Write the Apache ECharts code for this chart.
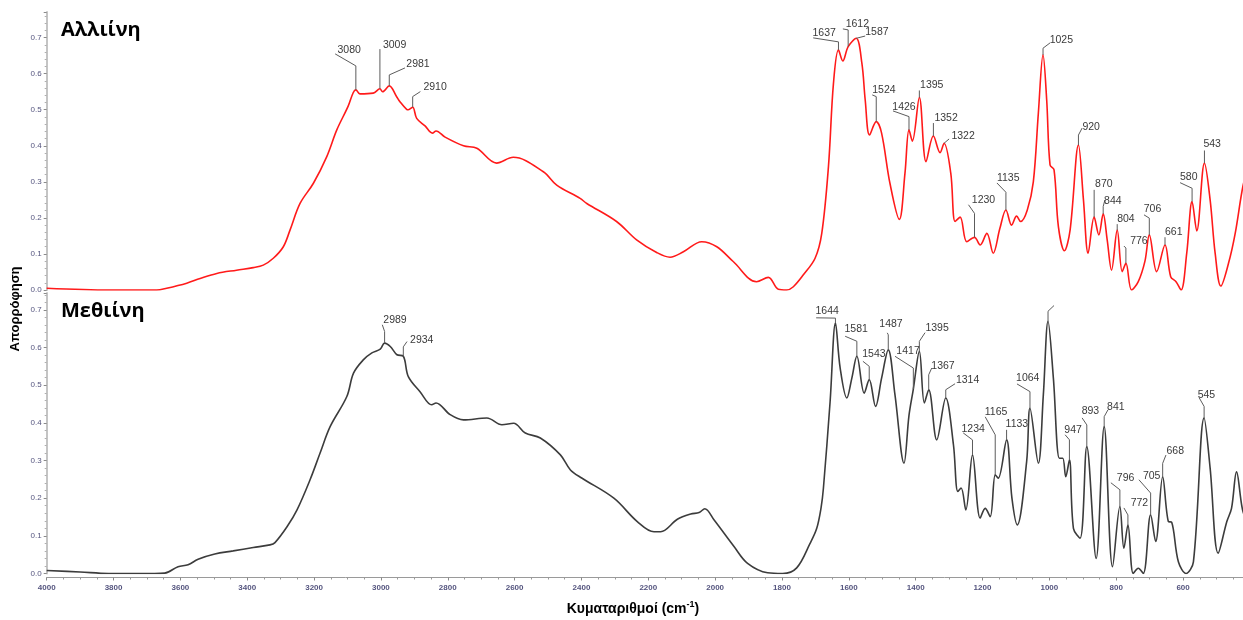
<!DOCTYPE html>
<html>
<head>
<meta charset="utf-8">
<script src="https://cdn.jsdelivr.net/npm/echarts@6/dist/echarts.min.js"></script>
<style>
html,body{margin:0;padding:0;background:#ffffff;}
#chart{width:1243px;height:620px;}
</style>
</head>
<body>
<div id="chart"></div>
<script>
// ---------- DATA ----------
// Alliin spectrum: [wavenumber (cm-1), absorbance]
const alliinSpectrum = [
  [4000,0.005],[3811,0.0],[3671,0.0],[3641,0.005],[3581,0.019],[3541,0.032],[3491,0.046],[3432,0.055],
  [3382,0.062],[3352,0.069],[3322,0.088],[3292,0.12],[3272,0.166],[3242,0.24],[3202,0.296],[3162,0.37],
  [3132,0.444],[3098,0.51],[3083,0.547],[3075,0.555],[3063,0.544],[3023,0.546],[3003,0.558],[2995,0.55],
  [2975,0.566],[2953,0.536],[2943,0.522],[2923,0.501],[2918,0.5],[2905,0.507],[2893,0.476],[2868,0.455],
  [2846,0.435],[2835,0.441],[2808,0.424],[2753,0.4],[2713,0.393],[2654,0.352],[2604,0.368],[2514,0.328],
  [2474,0.291],[2404,0.254],[2384,0.24],[2295,0.19],[2235,0.139],[2175,0.104],[2135,0.091],[2095,0.106],
  [2040,0.134],[1995,0.12],[1946,0.079],[1876,0.023],[1841,0.035],[1811,0.002],[1786,0.0],[1766,0.009],
  [1736,0.042],[1701,0.088],[1681,0.157],[1661,0.342],[1646,0.573],[1631,0.666],[1618,0.635],[1602,0.675],
  [1578,0.698],[1561,0.629],[1551,0.527],[1538,0.43],[1518,0.467],[1502,0.435],[1477,0.296],[1449,0.196],
  [1432,0.324],[1420,0.444],[1410,0.413],[1389,0.534],[1369,0.356],[1347,0.427],[1327,0.381],[1315,0.407],
  [1295,0.324],[1282,0.19],[1267,0.202],[1247,0.134],[1224,0.146],[1207,0.125],[1187,0.157],[1168,0.102],
  [1148,0.171],[1130,0.222],[1113,0.18],[1098,0.205],[1086,0.19],[1066,0.222],[1048,0.3],[1033,0.49],
  [1019,0.652],[1008,0.527],[998,0.347],[986,0.333],[973,0.176],[955,0.109],[938,0.166],[913,0.402],
  [898,0.25],[884,0.102],[866,0.202],[852,0.153],[839,0.211],[827,0.139],[814,0.055],[797,0.166],
  [782,0.051],[771,0.074],[754,0.0],[734,0.023],[714,0.08],[701,0.153],[679,0.051],[654,0.125],
  [637,0.037],[621,0.023],[606,0.0],[589,0.102],[573,0.245],[559,0.164],[536,0.352],[519,0.25],
  [504,0.102],[487,0.011],[464,0.074],[444,0.157],[421,0.287],[405,0.34]
];

// Methiin spectrum: [wavenumber (cm-1), absorbance]
const methiinSpectrum = [
  [4000,0.008],[3900,0.004],[3815,0.0],[3677,0.0],[3647,0.001],[3607,0.018],[3577,0.023],[3547,0.038],
  [3497,0.052],[3442,0.06],[3382,0.069],[3332,0.076],[3317,0.082],[3281,0.124],[3251,0.169],[3212,0.249],
  [3182,0.32],[3152,0.39],[3102,0.47],[3082,0.532],[3052,0.568],[3027,0.586],[3002,0.596],[2989,0.612],
  [2972,0.603],[2952,0.581],[2933,0.577],[2918,0.523],[2883,0.483],[2848,0.448],[2835,0.453],[2793,0.422],
  [2753,0.408],[2683,0.413],[2638,0.395],[2603,0.399],[2568,0.373],[2523,0.36],[2463,0.315],[2433,0.275],
  [2398,0.253],[2303,0.2],[2233,0.138],[2183,0.111],[2163,0.111],[2113,0.144],[2073,0.158],[2048,0.162],
  [2031,0.172],[2003,0.142],[1943,0.071],[1903,0.027],[1843,0.002],[1798,0.0],[1756,0.015],[1716,0.08],
  [1696,0.12],[1683,0.175],[1676,0.227],[1656,0.457],[1640,0.665],[1626,0.546],[1606,0.466],[1591,0.519],
  [1576,0.577],[1554,0.479],[1539,0.515],[1520,0.444],[1502,0.519],[1482,0.594],[1462,0.475],[1435,0.293],
  [1420,0.42],[1407,0.49],[1389,0.59],[1374,0.453],[1361,0.488],[1337,0.355],[1310,0.466],[1287,0.342],
  [1274,0.218],[1264,0.227],[1250,0.169],[1230,0.315],[1207,0.147],[1192,0.173],[1177,0.151],[1162,0.262],
  [1153,0.253],[1128,0.355],[1112,0.2],[1096,0.129],[1068,0.297],[1058,0.439],[1033,0.293],[1018,0.475],
  [1004,0.67],[988,0.519],[970,0.306],[960,0.306],[951,0.257],[940,0.302],[928,0.12],[908,0.094],
  [888,0.337],[860,0.04],[836,0.39],[811,0.018],[789,0.178],[777,0.067],[765,0.129],[749,0.0],
  [734,0.014],[719,0.0],[697,0.156],[682,0.085],[661,0.257],[644,0.138],[634,0.136],[614,0.031],
  [591,0.0],[569,0.031],[537,0.413],[519,0.28],[495,0.054],[469,0.138],[455,0.173],[440,0.27],
  [422,0.169],[405,0.13]
];

// Peak labels (cm-1)
const alliinPeaks = [3080,3009,2981,2910,1637,1612,1587,1524,1426,1395,1352,1322,1230,1135,1025,920,870,844,804,776,706,661,580,543];
const methiinPeaks = [2989,2934,1644,1581,1543,1487,1417,1395,1367,1314,1234,1165,1133,1064,1010,947,893,841,796,772,705,668,545];
const methiinHiddenPeakLabels = [1010];

const panelTitles = ['Αλλιίνη', 'Μεθιίνη'];
const yAxisTitle = 'Απορρόφηση';

// ---------- LAYOUT / STYLE (pixel offsets of the peak leader lines) ----------
// [vertical rise, line end dx, line end dy, text dx, text dy]
const alliinLabelLayout = [
  [24,-20.7,-36,-6.7,-40],[39.7,0,-39.7,14.7,-44],[11,15.7,-18,28.7,-22],[10.6,7.7,-15.6,22.4,-20],
  [8,-25.3,-12,-14.3,-17],[16.7,-5.3,-17.7,9.2,-22.7],[0,9,-2.3,20.7,-6.3],[25,-4,-26.7,7.7,-31.7],
  [13.3,-16,-19,-5,-23],[7,0,-7,12.4,-12],[13,0,-13,12.7,-18],[0,5,-4.3,19,-7.3],
  [24,-6,-32.6,9,-37.3],[17.7,-9,-27,2.3,-31.7],[6.7,7,-12,18.3,-15],[10,3.7,-17,12.7,-17.7],
  [27.3,0,-27.3,9.7,-33],[7.3,1.7,-14,9.7,-12.7],[6,0,-6,8.7,-11],[15.3,-2,-17.3,13,-22.6],
  [16.7,-5.3,-20,3.2,-25.7],[7.7,0,-7.7,8.7,-12.7],[13.4,-12,-19,-3.3,-24.4],[12.6,0,-12.6,7.7,-19.3]
];
const methiinLabelLayout = [
  [11.6,-2.3,-18.3,10.4,-22.6],[9.4,3.7,-14.7,18.4,-16],[5,-19.3,-5.3,-8.3,-11.6],[15,-11.7,-20,-0.7,-26.7],
  [13.3,-6.3,-18.3,4.7,-25],[15,-1,-17,2.7,-26],[21,-18.3,-32.7,-5.3,-37.7],[10,5.7,-18.7,17.7,-23.4],
  [15,3,-21.7,14.3,-24],[8.3,9.3,-14.3,21.8,-17.6],[15,-9.3,-22,0.7,-26],[40,-10,-58,0.8,-62.7],
  [10,0,-10,10.3,-15.7],[16.6,-13,-24.3,-2.2,-30],[10,6,-15.7,0,0],[20,-4.3,-25,3.7,-30],
  [21.7,-4.7,-28.7,3.6,-36],[10,3.7,-16.7,11.7,-19.4],[16.7,-9,-23.7,5.7,-28.4],[10,-4,-17,11.5,-21.7],
  [21.7,-11.7,-35,1,-39],[13.4,3.3,-21.7,12.6,-25.7],[11.6,-5,-20.3,2.3,-23.3]
];
const labelToCurveShift = 6;

const FONT = '"Liberation Sans", Arial, sans-serif';
const tickColor = '#55557f';

function anchorPoint(spectrum, peak) {
  const target = peak - labelToCurveShift;
  let best = spectrum[0];
  for (const p of spectrum) {
    if (Math.abs(p[0] - target) < Math.abs(best[0] - target)) best = p;
  }
  return best;
}

function annotationSeries(idx, spectrum, peaks, layout, hidden) {
  const data = peaks.map((p, i) => {
    const a = anchorPoint(spectrum, p);
    return [a[0], a[1], i];
  });
  return {
    type: 'custom',
    xAxisIndex: idx,
    yAxisIndex: idx,
    silent: true,
    clip: false,
    z: 5,
    data: data,
    renderItem: function (params, api) {
      const i = api.value(2);
      const pt = api.coord([api.value(0), api.value(1)]);
      const L = layout[i];
      const x = pt[0], y = pt[1];
      const children = [{
        type: 'polyline',
        shape: { points: [[x, y], [x, y - L[0]], [x + L[1], y + L[2]]] },
        style: { stroke: '#5c5c5c', lineWidth: 1, fill: null }
      }];
      if (hidden.indexOf(peaks[i]) < 0) {
        children.push({
          type: 'text',
          style: {
            text: String(peaks[i]),
            x: x + L[3], y: y + L[4],
            fill: '#3a3a3a',
            font: '10.5px ' + FONT,
            textAlign: 'center', textVerticalAlign: 'middle',
            align: 'center', verticalAlign: 'middle'
          }
        });
      }
      return { type: 'group', children: children };
    }
  };
}

function yAxisDef(gridIndex, max) {
  return {
    type: 'value', gridIndex: gridIndex, min: 0, max: max, interval: 0.1,
    axisLine: { show: true, lineStyle: { color: '#c4c4c4', width: 2 } },
    axisTick: { show: true, length: 3, lineStyle: { color: '#8a8a8a' } },
    minorTick: { show: true, splitNumber: 5, length: 2, lineStyle: { color: '#b0b0b0' } },
    splitLine: { show: false },
    axisLabel: {
      fontSize: 8, fontFamily: FONT, color: tickColor, margin: 5, showMaxLabel: false,
      formatter: function (v) { return Math.abs(v * 10 - Math.round(v * 10)) < 1e-6 ? v.toFixed(1) : ''; }
    }
  };
}

const chart = echarts.init(document.getElementById('chart'), null, { renderer: 'canvas' });

const option = {
  backgroundColor: '#ffffff',
  animation: false,
  grid: [
    { left: 46.7, top: 12, width: 1203.2, height: 278, outerBoundsMode: 'none', containLabel: false },
    { left: 46.7, top: 293, width: 1203.2, height: 280.5, outerBoundsMode: 'none', containLabel: false }
  ],
  xAxis: [
    {
      type: 'value', gridIndex: 0, min: 400, max: 4000, interval: 200, inverse: true,
      axisLine: { show: false }, axisTick: { show: false }, axisLabel: { show: false }, splitLine: { show: false }
    },
    {
      type: 'value', gridIndex: 1, min: 400, max: 4000, interval: 200, inverse: true, offset: 4,
      axisLine: { show: true, onZero: false, lineStyle: { color: '#9a9a9a', width: 1 } },
      axisTick: { show: true, length: 3, lineStyle: { color: '#8a8a8a' } },
      minorTick: { show: true, splitNumber: 4, length: 2, lineStyle: { color: '#9a9a9a' } },
      splitLine: { show: false },
      axisLabel: {
        fontSize: 8, fontWeight: 'bold', fontFamily: FONT, color: tickColor, margin: 6,
        formatter: function (v) { return String(v); }
      }
    }
  ],
  yAxis: [yAxisDef(0, 0.771), yAxisDef(1, 0.745)],
  series: [
    {
      type: 'line', xAxisIndex: 0, yAxisIndex: 0, data: alliinSpectrum,
      showSymbol: false, smooth: 0.35, lineStyle: { color: '#ff1a1a', width: 1.6 }, z: 3
    },
    {
      type: 'line', xAxisIndex: 1, yAxisIndex: 1, data: methiinSpectrum,
      showSymbol: false, smooth: 0.35, lineStyle: { color: '#3c3c3c', width: 1.6 }, z: 3
    },
    annotationSeries(0, alliinSpectrum, alliinPeaks, alliinLabelLayout, []),
    annotationSeries(1, methiinSpectrum, methiinPeaks, methiinLabelLayout, methiinHiddenPeakLabels)
  ],
  graphic: [
    {
      type: 'text', x: 61, y: 30,
      style: { text: panelTitles[0], font: 'bold 20px "Open Sans", "Noto Sans", sans-serif', fill: '#000', textVerticalAlign: 'middle', verticalAlign: 'middle' }
    },
    {
      type: 'text', x: 61, y: 311,
      style: { text: panelTitles[1], font: 'bold 20px "Open Sans", "Noto Sans", sans-serif', fill: '#000', textVerticalAlign: 'middle', verticalAlign: 'middle' }
    },
    {
      type: 'text', x: 15, y: 309, rotation: Math.PI / 2,
      style: { text: yAxisTitle, font: 'bold 13px ' + FONT, fill: '#000', textAlign: 'center', align: 'center', textVerticalAlign: 'middle', verticalAlign: 'middle' }
    },
    {
      type: 'text', x: 633, y: 608,
      style: {
        text: '{a|Κυματαριθμοί (cm}{s|-1}{a|)}',
        textAlign: 'center', align: 'center', textVerticalAlign: 'middle', verticalAlign: 'middle',
        rich: {
          a: { font: 'bold 14px ' + FONT, fill: '#000', lineHeight: 16, verticalAlign: 'bottom' },
          s: { font: 'bold 9px ' + FONT, fill: '#000', lineHeight: 16, verticalAlign: 'top', padding: [0, 0, 6, 0] }
        }
      }
    }
  ]
};

chart.setOption(option);
</script>
</body>
</html>
